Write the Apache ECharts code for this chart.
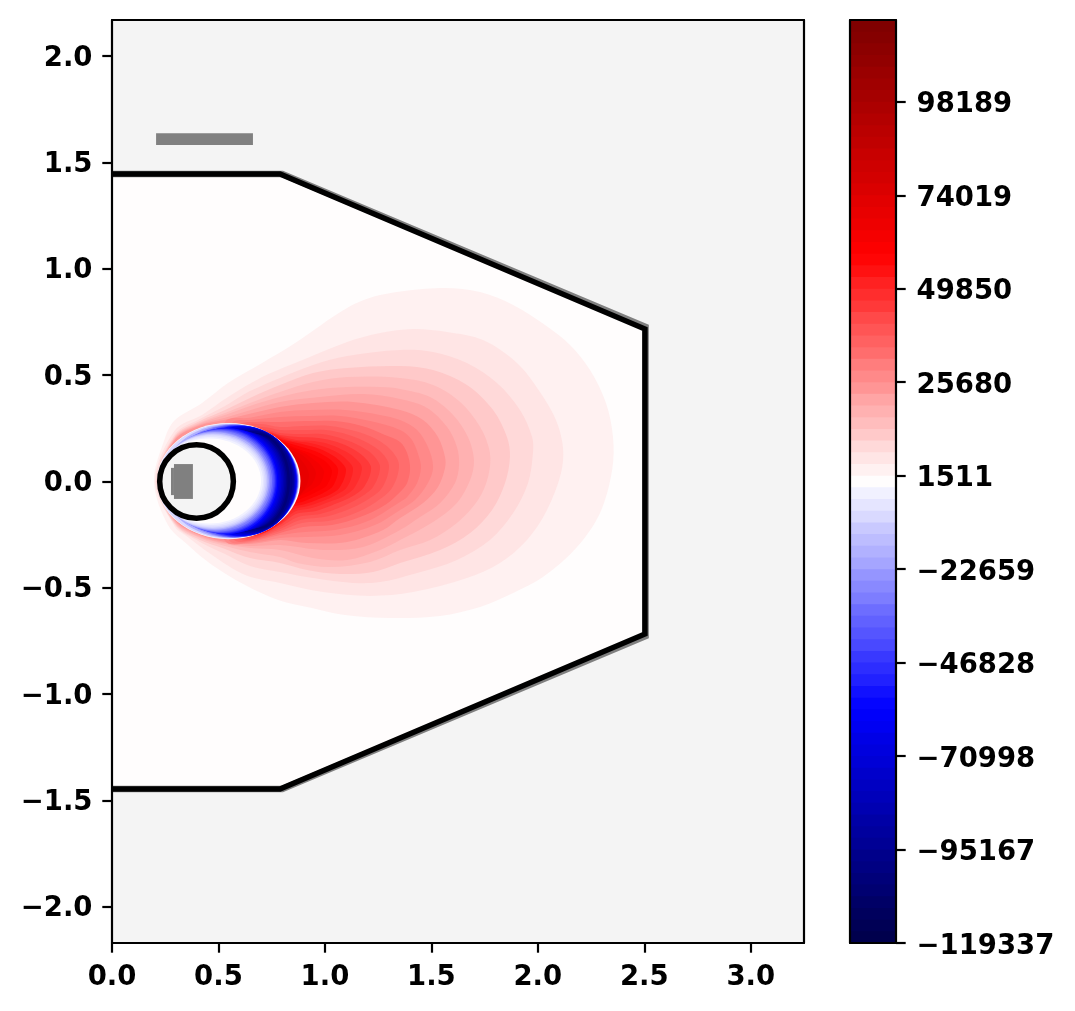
<!DOCTYPE html>
<html>
<head>
<meta charset="utf-8">
<style>
  html, body { margin: 0; padding: 0; background: #fff; }
  #main { width: 1075px; height: 1011px; }
</style>
<script src="https://cdn.jsdelivr.net/npm/echarts@6/dist/echarts.min.js"></script>
</head>
<body>
<div id="main"></div>
<script>
// axes
const xTicks = [0, 0.5, 1, 1.5, 2, 2.5, 3];
const yTicks = [-2, -1.5, -1, -0.5, 0, 0.5, 1, 1.5, 2];
const colorbarTicks = [-119337, -95167, -70998, -46828, -22659, 1511, 25680, 49850, 74019, 98189];

// filled contour levels, 79 bands
const levels = [
  -119337, -116316, -113295, -110274, -107252, -104231, -101210, -98189,
  -95167, -92146, -89125, -86104, -83083, -80062, -77040, -74019,
  -70998, -67977, -64955, -61934, -58913, -55892, -52871, -49850,
  -46828, -43807, -40786, -37765, -34744, -31722, -28701, -25680,
  -22659, -19638, -16616, -13595, -10574, -7553, -4532, -1511,
  1511, 4532, 7553, 10574, 13595, 16616, 19638, 22659,
  25680, 28701, 31722, 34744, 37765, 40786, 43807, 46828,
  49850, 52871, 55892, 58913, 61934, 64955, 67977, 70998,
  74019, 77040, 80062, 83083, 86104, 89125, 92146, 95167,
  98189, 101210, 104231, 107252, 110274, 113295, 116316, 119337
];

// vessel wall, [r, z]
const wallOutline = [[0, 1.446], [0.789, 1.446], [2.503, 0.717], [2.503, -0.717], [0.789, -1.446], [0, -1.446]];
const wallShadow = [[0, 1.446], [0.8, 1.446], [2.506, 0.727], [2.506, -0.727], [0.8, -1.446], [0, -1.446]];

// grey blocks: r0, r1, z0, z1
const blockR0 = [0.207, 0.291, 0.277];
const blockR1 = [0.662, 0.38, 0.291];
const blockZ0 = [1.582, -0.082, -0.064];
const blockZ1 = [1.638, 0.082, 0.064];

// central circle
const circleR = [0.397];
const circleZ = [0];
const circleRadius = [0.173];

// positive side, one band each starting at contourFirstBand
const contourFirstBand = 40;
const contourOutlines = [
  [[0.197, 0], [0.249, 0.205], [0.296, 0.289], [0.423, 0.369], [0.545, 0.463], [0.705, 0.557], [0.86, 0.651], [1.104, 0.816], [1.259, 0.877], [1.541, 0.91], [1.729, 0.891], [1.884, 0.83], [2.034, 0.736], [2.151, 0.642], [2.245, 0.524], [2.32, 0.369], [2.353, 0.209], [2.349, 0.054], [2.292, -0.148], [2.184, -0.308], [2.024, -0.449], [1.884, -0.524], [1.729, -0.59], [1.541, -0.632], [1.306, -0.642], [1.094, -0.628], [0.939, -0.595], [0.78, -0.557], [0.625, -0.487], [0.47, -0.393], [0.357, -0.299], [0.263, -0.205]],
  [[0.202, 0], [0.296, 0.242], [0.423, 0.313], [0.545, 0.397], [0.705, 0.491], [0.86, 0.557], [1.104, 0.656], [1.259, 0.698], [1.414, 0.717], [1.574, 0.703], [1.743, 0.665], [1.902, 0.557], [2.01, 0.421], [2.085, 0.289], [2.118, 0.162], [2.109, 0.04], [2.043, -0.134], [1.949, -0.275], [1.822, -0.383], [1.667, -0.454], [1.414, -0.52], [1.212, -0.538], [0.991, -0.52], [0.789, -0.477], [0.625, -0.44], [0.47, -0.346], [0.343, -0.252], [0.296, -0.214]],
  [[0.207, 0], [0.296, 0.223], [0.413, 0.294], [0.531, 0.355], [0.648, 0.425], [0.789, 0.487], [0.944, 0.548], [1.104, 0.59], [1.353, 0.618], [1.508, 0.609], [1.667, 0.557], [1.808, 0.463], [1.916, 0.336], [1.973, 0.209], [1.977, 0.134], [1.954, -0.007], [1.884, -0.148], [1.775, -0.275], [1.62, -0.369], [1.433, -0.43], [1.259, -0.473], [1.132, -0.477], [0.944, -0.454], [0.789, -0.425], [0.648, -0.397], [0.531, -0.341], [0.413, -0.284], [0.296, -0.205]],
  [[0.21, 0], [0.296, 0.214], [0.413, 0.284], [0.531, 0.336], [0.648, 0.393], [0.789, 0.454], [0.944, 0.51], [1.104, 0.534], [1.353, 0.543], [1.508, 0.524], [1.667, 0.454], [1.79, 0.336], [1.855, 0.209], [1.869, 0.115], [1.846, -0.007], [1.785, -0.134], [1.682, -0.242], [1.541, -0.322], [1.353, -0.383], [1.226, -0.425], [1.071, -0.435], [0.916, -0.416], [0.789, -0.383], [0.648, -0.36], [0.531, -0.317], [0.413, -0.275], [0.296, -0.2]],
  [[0.212, 0], [0.296, 0.209], [0.413, 0.277], [0.531, 0.322], [0.648, 0.369], [0.789, 0.421], [0.944, 0.468], [1.104, 0.491], [1.353, 0.487], [1.508, 0.454], [1.635, 0.374], [1.729, 0.256], [1.775, 0.134], [1.766, 0.021], [1.719, -0.087], [1.62, -0.195], [1.494, -0.275], [1.353, -0.322], [1.212, -0.378], [1.024, -0.402], [0.869, -0.383], [0.789, -0.355], [0.648, -0.331], [0.531, -0.303], [0.413, -0.266], [0.296, -0.195]],
  [[0.214, 0], [0.296, 0.205], [0.413, 0.273], [0.531, 0.313], [0.648, 0.355], [0.789, 0.397], [0.944, 0.43], [1.104, 0.444], [1.259, 0.444], [1.353, 0.435], [1.494, 0.397], [1.602, 0.313], [1.672, 0.209], [1.7, 0.101], [1.682, 0.007], [1.62, -0.101], [1.508, -0.19], [1.353, -0.275], [1.259, -0.322], [1.104, -0.369], [0.944, -0.36], [0.789, -0.322], [0.648, -0.313], [0.531, -0.294], [0.413, -0.261], [0.296, -0.19]],
  [[0.216, 0], [0.296, 0.2], [0.413, 0.268], [0.531, 0.3], [0.648, 0.335], [0.789, 0.374], [0.977, 0.397], [1.179, 0.411], [1.353, 0.388], [1.48, 0.346], [1.574, 0.256], [1.62, 0.162], [1.63, 0.078], [1.611, -0.007], [1.541, -0.101], [1.447, -0.167], [1.353, -0.228], [1.179, -0.308], [0.991, -0.322], [0.789, -0.299], [0.648, -0.303], [0.531, -0.289], [0.413, -0.256], [0.296, -0.186]],
  [[0.218, 0], [0.296, 0.196], [0.413, 0.263], [0.531, 0.29], [0.648, 0.318], [0.789, 0.35], [0.944, 0.369], [1.132, 0.374], [1.353, 0.336], [1.461, 0.289], [1.531, 0.209], [1.564, 0.115], [1.564, 0.063], [1.531, -0.026], [1.461, -0.101], [1.353, -0.172], [1.273, -0.228], [1.104, -0.284], [0.916, -0.289], [0.789, -0.275], [0.648, -0.294], [0.531, -0.284], [0.413, -0.252], [0.296, -0.181]],
  [[0.531, 0.28], [0.648, 0.3], [0.789, 0.327], [0.93, 0.336], [1.094, 0.336], [1.259, 0.313], [1.353, 0.289], [1.433, 0.242], [1.484, 0.162], [1.508, 0.068], [1.484, -0.007], [1.423, -0.087], [1.353, -0.134], [1.235, -0.205], [1.071, -0.252], [0.907, -0.261], [0.789, -0.266], [0.648, -0.289], [0.531, -0.28], [0.45, 0]],
  [[0.56, 0.272], [0.66, 0.29], [0.789, 0.303], [0.93, 0.308], [1.071, 0.308], [1.212, 0.284], [1.353, 0.242], [1.409, 0.195], [1.442, 0.115], [1.451, 0.063], [1.433, -0.007], [1.386, -0.073], [1.353, -0.096], [1.202, -0.186], [1.047, -0.228], [0.907, -0.237], [0.789, -0.252], [0.648, -0.284], [0.55, -0.278], [0.45, 0]],
  [[0.6, 0.265], [0.68, 0.28], [0.789, 0.28], [0.907, 0.284], [1.047, 0.284], [1.174, 0.261], [1.282, 0.219], [1.353, 0.186], [1.386, 0.134], [1.4, 0.063], [1.386, -0.007], [1.353, -0.049], [1.282, -0.11], [1.165, -0.167], [1.033, -0.205], [0.897, -0.214], [0.789, -0.242], [0.648, -0.28], [0.57, -0.272], [0.45, 0]],
  [[0.63, 0.26], [0.7, 0.27], [0.789, 0.256], [0.897, 0.261], [1.024, 0.261], [1.141, 0.237], [1.24, 0.2], [1.31, 0.148], [1.348, 0.078], [1.315, -0.031], [1.24, -0.096], [1.132, -0.153], [1.015, -0.186], [0.892, -0.195], [0.789, -0.233], [0.648, -0.275], [0.59, -0.265], [0.45, 0]],
  [[0.66, 0.25], [0.72, 0.255], [0.789, 0.242], [0.892, 0.242], [1.005, 0.242], [1.113, 0.219], [1.202, 0.181], [1.268, 0.134], [1.301, 0.073], [1.268, -0.031], [1.198, -0.087], [1.104, -0.134], [0.996, -0.167], [0.883, -0.181], [0.789, -0.223], [0.66, -0.27], [0.6, -0.26], [0.45, 0]],
  [[0.68, 0.24], [0.74, 0.24], [0.789, 0.228], [0.874, 0.223], [0.986, 0.223], [1.085, 0.2], [1.165, 0.167], [1.226, 0.125], [1.259, 0.068], [1.226, -0.026], [1.16, -0.078], [1.076, -0.12], [0.977, -0.153], [0.874, -0.167], [0.789, -0.214], [0.67, -0.262], [0.61, -0.25], [0.45, 0]],
  [[0.7, 0.235], [0.75, 0.23], [0.789, 0.219], [0.874, 0.209], [0.968, 0.205], [1.057, 0.186], [1.132, 0.153], [1.184, 0.115], [1.217, 0.063], [1.184, -0.026], [1.123, -0.073], [1.047, -0.106], [0.958, -0.139], [0.864, -0.153], [0.789, -0.205], [0.68, -0.255], [0.62, -0.24], [0.45, 0]],
  [[0.71, 0.23], [0.76, 0.225], [0.8, 0.21], [0.864, 0.195], [0.949, 0.19], [1.029, 0.172], [1.094, 0.143], [1.146, 0.106], [1.174, 0.063], [1.141, -0.026], [1.09, -0.068], [1.019, -0.096], [0.939, -0.125], [0.855, -0.143], [0.789, -0.2], [0.69, -0.25], [0.63, -0.24], [0.45, 0]],
  [[0.72, 0.225], [0.77, 0.215], [0.81, 0.2], [0.855, 0.19], [0.93, 0.181], [1, 0.162], [1.062, 0.134], [1.104, 0.101], [1.132, 0.059], [1.104, -0.026], [1.052, -0.063], [0.991, -0.092], [0.921, -0.115], [0.845, -0.134], [0.789, -0.195], [0.7, -0.245], [0.64, -0.23], [0.45, 0]],
  [[0.73, 0.22], [0.775, 0.205], [0.82, 0.192], [0.865, 0.182], [0.911, 0.172], [0.977, 0.153], [1.033, 0.125], [1.071, 0.096], [1.099, 0.054], [1.071, -0.026], [1.029, -0.059], [0.972, -0.082], [0.907, -0.106], [0.836, -0.125], [0.789, -0.19], [0.71, -0.24], [0.65, -0.23], [0.45, 0]],
  [[0.74, 0.21], [0.785, 0.2], [0.827, 0.181], [0.892, 0.162], [0.953, 0.143], [1, 0.12], [1.038, 0.092], [1.062, 0.054], [1.038, -0.021], [1, -0.049], [0.949, -0.073], [0.892, -0.096], [0.827, -0.115], [0.789, -0.186], [0.72, -0.23], [0.66, -0.22], [0.45, 0]],
  [[0.75, 0.2], [0.8, 0.185], [0.874, 0.153], [0.93, 0.134], [0.977, 0.11], [1.01, 0.087], [1.033, 0.049], [1.01, -0.016], [0.977, -0.04], [0.93, -0.063], [0.874, -0.087], [0.817, -0.11], [0.78, -0.18], [0.73, -0.22], [0.67, -0.21], [0.45, 0]],
  [[0.76, 0.19], [0.81, 0.17], [0.902, 0.134], [0.944, 0.106], [0.977, 0.078], [0.996, 0.045], [0.977, -0.012], [0.944, -0.035], [0.902, -0.059], [0.855, -0.082], [0.8, -0.12], [0.75, -0.19], [0.69, -0.2], [0.45, 0]],
  [[0.77, 0.18], [0.82, 0.15], [0.874, 0.135], [0.911, 0.11], [0.939, 0.078], [0.958, 0.04], [0.939, -0.012], [0.911, -0.035], [0.874, -0.073], [0.82, -0.11], [0.76, -0.18], [0.7, -0.19], [0.45, 0]],
  [[0.78, 0.17], [0.84, 0.14], [0.885, 0.105], [0.912, 0.07], [0.925, 0.03], [0.915, -0.015], [0.885, -0.06], [0.84, -0.1], [0.78, -0.165], [0.45, 0]]
];

// negative crescent inside the separatrix, painted outside to inside
const ovalBand = [39, 36, 33, 30, 27, 24, 21, 18, 15, 12, 9, 7, 5, 7, 9, 11, 13, 15, 17, 19, 21, 23, 25, 27, 29, 31, 33, 35, 36, 37, 38, 39];
const ovalLeft = [0.211, 0.214, 0.235, 0.258, 0.282, 0.305, 0.329, 0.357, 0.385, 0.413, 0.441, 0.479, 0.531, 0.517, 0.488, 0.46, 0.427, 0.395, 0.362, 0.329, 0.296, 0.272, 0.258, 0.249, 0.239, 0.23, 0.225, 0.223, 0.221, 0.218, 0.216, 0.216];
const ovalRight = [0.885, 0.879, 0.877, 0.875, 0.873, 0.872, 0.869, 0.867, 0.863, 0.86, 0.855, 0.848, 0.836, 0.824, 0.817, 0.81, 0.803, 0.796, 0.789, 0.782, 0.776, 0.77, 0.765, 0.759, 0.752, 0.744, 0.737, 0.73, 0.723, 0.716, 0.709, 0.7];
const ovalTop = [0.275, 0.273, 0.27, 0.268, 0.267, 0.265, 0.262, 0.26, 0.255, 0.25, 0.244, 0.237, 0.228, 0.223, 0.226, 0.231, 0.235, 0.24, 0.244, 0.249, 0.252, 0.249, 0.247, 0.243, 0.24, 0.235, 0.231, 0.226, 0.221, 0.216, 0.209, 0.202];
const ovalBottom = [-0.271, -0.269, -0.266, -0.264, -0.263, -0.261, -0.258, -0.256, -0.251, -0.246, -0.24, -0.233, -0.224, -0.219, -0.222, -0.227, -0.231, -0.236, -0.24, -0.245, -0.248, -0.245, -0.243, -0.239, -0.236, -0.231, -0.227, -0.222, -0.217, -0.212, -0.205, -0.198];

const BAND_COUNT = levels.length - 1;
const FIELD_BG = '#f4f4f4';
const GREY = '#808080';
const labelStyle = {
  fontFamily: 'DejaVu Sans',
  fontWeight: 'bold',
  fontSize: 27.5,
  color: '#000'
};
const minus = (s) => String(s).replace('-', '\u2212');

// same curve as matplotlib "seismic", 256 steps
function bandColor(band) {
  const i = Math.min(255, Math.floor(band / (BAND_COUNT - 1) * 256));
  const t = i / 255;
  let r, g, b;
  if (t < 0.25) {
    r = 0; g = 0; b = 0.3 + 0.7 * t / 0.25;
  } else if (t < 0.5) {
    r = g = (t - 0.25) / 0.25; b = 1;
  } else if (t < 0.75) {
    r = 1; g = b = 1 - (t - 0.5) / 0.25;
  } else {
    r = 1 - 0.5 * (t - 0.75) / 0.25; g = 0; b = 0;
  }
  return `rgb(${Math.round(r * 255)},${Math.round(g * 255)},${Math.round(b * 255)})`;
}

function customSeries(count, renderItem, grid) {
  return {
    type: 'custom',
    coordinateSystem: 'cartesian2d',
    xAxisIndex: grid || 0,
    yAxisIndex: grid ? 2 : 0,
    silent: true,
    animation: false,
    data: Array.from({ length: count }, (_, i) => [i]),
    renderItem
  };
}

function rectFrom(api, x0, x1, y0, y1) {
  const a = api.coord([x0, y1]);
  const b = api.coord([x1, y0]);
  return { x: a[0], y: a[1], width: b[0] - a[0], height: b[1] - a[1] };
}

const tickStyle = { length: 9.7, lineStyle: { color: '#000', width: 2.2 } };
const lineStyle = { show: true, onZero: false, lineStyle: { color: '#000', width: 2.2 } };
const bareAxis = {
  axisLine: lineStyle,
  axisTick: { show: false },
  axisLabel: { show: false },
  splitLine: { show: false },
  z: 6
};

const option = {
  animation: false,
  backgroundColor: '#fff',
  grid: [
    { left: 112, top: 20, right: 271, bottom: 68, show: true, backgroundColor: FIELD_BG, borderWidth: 0 },
    { left: 850, top: 20, right: 179, bottom: 68 }
  ],
  xAxis: [
    {
      type: 'value', gridIndex: 0, min: 0, max: 3.25, position: 'bottom', z: 6,
      axisLine: lineStyle,
      axisTick: Object.assign({ customValues: xTicks }, tickStyle),
      axisLabel: Object.assign({ customValues: xTicks, margin: 21, formatter: (v) => v.toFixed(1) }, labelStyle),
      splitLine: { show: false }
    },
    Object.assign({ type: 'value', gridIndex: 1, min: 0, max: 1, position: 'bottom' }, bareAxis),
    Object.assign({ type: 'value', gridIndex: 0, min: 0, max: 3.25, position: 'top' }, bareAxis),
    Object.assign({ type: 'value', gridIndex: 1, min: 0, max: 1, position: 'top' }, bareAxis)
  ],
  yAxis: [
    {
      type: 'value', gridIndex: 0, min: -2.17, max: 2.17, position: 'left', z: 6,
      axisLine: lineStyle,
      axisTick: Object.assign({ customValues: yTicks }, tickStyle),
      axisLabel: Object.assign({ customValues: yTicks, margin: 19.5, verticalAlign: 'top', lineHeight: 5, formatter: (v) => minus(v.toFixed(1)) }, labelStyle),
      splitLine: { show: false }
    },
    Object.assign({ type: 'value', gridIndex: 0, min: -2.17, max: 2.17, position: 'right' }, bareAxis),
    {
      type: 'value', gridIndex: 1, min: levels[0], max: levels[BAND_COUNT], position: 'right', z: 6,
      axisLine: lineStyle,
      axisTick: Object.assign({ customValues: colorbarTicks }, tickStyle),
      axisLabel: Object.assign({ customValues: colorbarTicks, margin: 20.5, verticalAlign: 'top', lineHeight: 7, formatter: (v) => minus(v) }, labelStyle),
      splitLine: { show: false }
    },
    Object.assign({ type: 'value', gridIndex: 1, min: levels[0], max: levels[BAND_COUNT], position: 'left' }, bareAxis)
  ],
  series: [
    // plasma region inside the wall
    customSeries(1, (params, api) => ({
      type: 'polygon',
      shape: { points: wallOutline.map((p) => api.coord(p)) },
      style: { fill: bandColor(39) }
    })),
    // red contours
    customSeries(contourOutlines.length, (params, api) => ({
      type: 'polygon',
      shape: { points: contourOutlines[params.dataIndex].map((p) => api.coord(p)), smooth: 0.33 },
      style: { fill: bandColor(contourFirstBand + params.dataIndex) }
    })),
    // blue crescent
    customSeries(ovalBand.length, (params, api) => {
      const i = params.dataIndex;
      const c = api.coord([(ovalLeft[i] + ovalRight[i]) / 2, (ovalTop[i] + ovalBottom[i]) / 2]);
      const s = api.size([(ovalRight[i] - ovalLeft[i]) / 2, (ovalTop[i] - ovalBottom[i]) / 2]);
      return {
        type: 'ellipse',
        shape: { cx: c[0], cy: c[1], rx: s[0], ry: s[1] },
        style: { fill: bandColor(ovalBand[i]) }
      };
    }),
    // wall lines
    customSeries(1, (params, api) => ({
      type: 'polyline',
      shape: { points: wallShadow.map((p) => api.coord(p)) },
      style: { stroke: GREY, lineWidth: 6.5, fill: null, lineJoin: 'miter' }
    })),
    customSeries(1, (params, api) => ({
      type: 'polyline',
      shape: { points: wallOutline.map((p) => api.coord(p)) },
      style: { stroke: '#000', lineWidth: 5.5, fill: null, lineJoin: 'miter' }
    })),
    // central circle
    customSeries(circleR.length, (params, api) => {
      const i = params.dataIndex;
      const c = api.coord([circleR[i], circleZ[i]]);
      const s = api.size([circleRadius[i], circleRadius[i]]);
      return {
        type: 'ellipse',
        shape: { cx: c[0], cy: c[1], rx: s[0], ry: s[1] },
        style: { fill: FIELD_BG, stroke: '#000', lineWidth: 5.5 }
      };
    }),
    // coil and inner blocks
    customSeries(blockR0.length, (params, api) => {
      const i = params.dataIndex;
      return {
        type: 'rect',
        shape: rectFrom(api, blockR0[i], blockR1[i], blockZ0[i], blockZ1[i]),
        style: { fill: GREY }
      };
    }),
    // colorbar, each band painted up to the top so no seams show
    customSeries(BAND_COUNT, (params, api) => {
      const i = params.dataIndex;
      return {
        type: 'rect',
        shape: rectFrom(api, 0, 1, levels[i], levels[BAND_COUNT]),
        style: { fill: bandColor(i) }
      };
    }, 1)
  ]
};

const chart = echarts.init(document.getElementById('main'), null, { renderer: 'canvas', width: 1075, height: 1011 });
chart.setOption(option);
</script>
</body>
</html>
